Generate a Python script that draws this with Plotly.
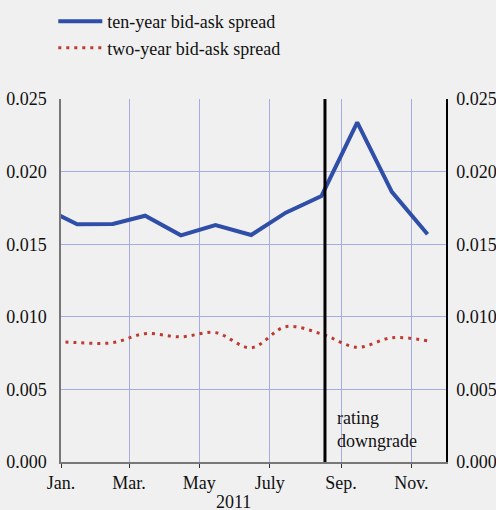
import plotly.graph_objects as go

dates = ["2010-12-15", "2011-01-15", "2011-02-15", "2011-03-15", "2011-04-15", "2011-05-15",
         "2011-06-15", "2011-07-15", "2011-08-15", "2011-09-15", "2011-10-15", "2011-11-15"]
ten_year = [0.0176, 0.01637, 0.01639, 0.01696, 0.01561, 0.01632,
            0.01563, 0.01717, 0.01832, 0.02339, 0.01861, 0.01568]
two_year = [0.0084, 0.00822, 0.00822, 0.00884, 0.00862, 0.00891,
            0.00787, 0.00932, 0.00882, 0.00790, 0.00856, 0.00835]

tick_dates = ["2011-01-01", "2011-03-01", "2011-05-01", "2011-07-01", "2011-09-01", "2011-11-01"]
tick_labels = ["Jan.", "Mar.", "May", "July", "Sep.", "Nov."]
y_ticks = [0.0, 0.005, 0.010, 0.015, 0.020, 0.025]
downgrade_date = "2011-08-18"

FONT = "Liberation Serif, Times New Roman, serif"
BG = "#f0f0f0"
GRID = "rgb(165,172,228)"

fig = go.Figure()
fig.add_trace(go.Scatter(x=dates, y=ten_year, mode="lines", name="ten-year bid-ask spread",
                         line=dict(color="rgb(46,78,168)", width=4)))
fig.add_trace(go.Scatter(x=dates, y=two_year, mode="lines", name="two-year bid-ask spread",
                         line=dict(color="rgb(190,58,45)", width=3, dash="3px,5px",
                                   shape="spline", smoothing=1)))
fig.add_trace(go.Scatter(x=dates, y=two_year, mode="lines", yaxis="y2", showlegend=False,
                         hoverinfo="skip", line=dict(color="rgba(0,0,0,0)", width=0)))

fig.add_shape(type="line", xref="x", yref="y", x0=downgrade_date, x1=downgrade_date,
              y0=0, y1=0.025, line=dict(color="black", width=3))
fig.add_annotation(x="2011-08-27", y=0.00227, xref="x", yref="y", text="rating<br>downgrade",
                   showarrow=False, xanchor="left", yanchor="middle", align="left",
                   font=dict(family=FONT, size=18, color="#111"))
fig.add_annotation(x=0.447, y=0, xref="paper", yref="paper", yshift=-40, text="2011",
                   showarrow=False, xanchor="center", yanchor="middle",
                   font=dict(family=FONT, size=18, color="#111"))

fig.update_layout(
    template="none",
    width=496, height=510,
    margin=dict(l=61, r=50, t=99, b=48, autoexpand=False),
    paper_bgcolor=BG, plot_bgcolor=BG,
    font=dict(family=FONT, size=18, color="#111"),
    showlegend=True,
    legend=dict(x=-0.02, xanchor="left", y=0.994, yref="container", yanchor="top",
                bgcolor="rgba(0,0,0,0)", font=dict(family=FONT, size=18, color="#111"),
                tracegroupgap=0, itemwidth=44),
    xaxis=dict(range=["2011-01-01", "2011-12-01"], tickvals=tick_dates, ticktext=tick_labels,
               showgrid=True, gridcolor=GRID, gridwidth=1, ticks="outside", ticklen=4,
               tickcolor="#333", showline=True, linecolor="#777", linewidth=1.5,
               zeroline=False, automargin=False, tickfont=dict(family=FONT, size=18)),
    yaxis=dict(range=[0, 0.025], tickvals=y_ticks, tickformat=".3f", showgrid=True,
               gridcolor=GRID, gridwidth=1, showline=True, linecolor="#777", linewidth=1.5,
               zeroline=False, ticks="", ticklabelstandoff=9, automargin=False,
               tickfont=dict(family=FONT, size=18)),
    yaxis2=dict(range=[0, 0.025], tickvals=y_ticks, tickformat=".3f", overlaying="y",
                side="right", showgrid=False, showline=True, linecolor="black", linewidth=1.5,
                zeroline=False, ticks="", ticklabelstandoff=5, automargin=False,
                tickfont=dict(family=FONT, size=18)),
)

fig.write_html("out.html", config={"displayModeBar": False},
               post_script="document.body.style.margin='0';document.body.style.overflow='hidden';")
